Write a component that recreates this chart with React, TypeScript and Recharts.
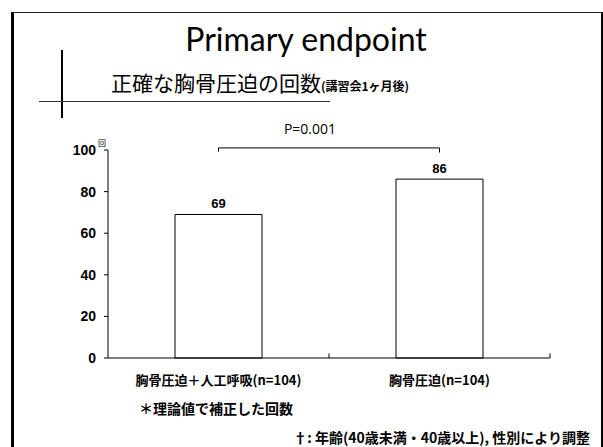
import * as React from 'react';
import {
  BarChart,
  Bar,
  XAxis,
  YAxis,
  LabelList,
  ReferenceLine,
} from 'recharts';

const groups = ['胸骨圧迫＋人工呼吸(n=104)', '胸骨圧迫(n=104)'];
const counts = [69, 86];
const yTicks = [0, 20, 40, 60, 80, 100];
const pValue = 'P=0.001';

const data = groups.map((g, i) => ({ group: g, count: counts[i] }));

const JP = '"Noto Sans CJK JP", "Liberation Sans", sans-serif';
const NUM = '"Liberation Sans", Arial, sans-serif';

const YTick = (props: any) => {
  const { x, y, payload } = props;
  return (
    <g>
      <text x={x} y={y} dy={5} textAnchor="end" fontFamily={NUM} fontWeight="bold" fontSize={14} fill="#000">
        {payload.value}
      </text>
      {payload.value === 100 && (
        <text x={x + 2} y={y - 4} fontFamily={JP} fontSize={8} fill="#000">回</text>
      )}
    </g>
  );
};

export default class App extends React.Component<any, any> {
  public render() {
    return (
      <div style={{ position: 'absolute', left: 0, top: 0, width: 603, height: 447, background: '#fff', overflow: 'hidden' }}>
        <div style={{ position: 'absolute', left: 106, top: 20, width: 400, textAlign: 'center', fontFamily: 'Lato, "Open Sans", sans-serif', fontSize: 32, color: '#000', lineHeight: '38px' }}>
          Primary endpoint
        </div>
        <div style={{ position: 'absolute', left: 111, top: 69, fontFamily: JP, fontSize: 21, color: '#000', lineHeight: '26px', whiteSpace: 'nowrap' }}>
          正確な胸骨圧迫の回数<span style={{ fontSize: 12, fontWeight: 'bold' }}>(講習会1ヶ月後)</span>
        </div>
        <div style={{ position: 'absolute', left: 210, top: 119, width: 200, textAlign: 'center', fontFamily: '"Open Sans", sans-serif', fontSize: 14, color: '#000' }}>
          {pValue}
        </div>
        <div style={{ position: 'absolute', left: 0, top: 0 }}>
          <BarChart
            width={603}
            height={447}
            data={data}
            margin={{ top: 150, right: 53, bottom: 59, left: 48 }}
            barCategoryGap={67}
          >
            <XAxis
              dataKey="group"
              axisLine={{ stroke: '#000' }}
              tickLine={false}
              tick={{ fontFamily: JP, fontSize: 13, fontWeight: 'bold', fill: '#000' }}
              tickMargin={12}
              height={30}
            />
            <YAxis
              domain={[0, 100]}
              ticks={yTicks}
              width={60}
              axisLine={{ stroke: '#000' }}
              tickLine={{ stroke: '#000' }}
              tickSize={4}
              tick={<YTick />}
              tickMargin={8}
            />
            {/* significance bracket */}
            <ReferenceLine segment={[{ x: groups[0], y: 101 }, { x: groups[1], y: 101 }]} stroke="#000" ifOverflow="visible" />
            <ReferenceLine segment={[{ x: groups[0], y: 101 }, { x: groups[0], y: 99.2 }]} stroke="#000" ifOverflow="visible" />
            <ReferenceLine segment={[{ x: groups[1], y: 101 }, { x: groups[1], y: 98.8 }]} stroke="#000" ifOverflow="visible" />
            {/* category boundary ticks */}
            <ReferenceLine position="end" segment={[{ x: groups[0], y: 0 }, { x: groups[0], y: 2.2 }]} stroke="#000" />
            <ReferenceLine position="end" segment={[{ x: groups[1], y: 0 }, { x: groups[1], y: 2.2 }]} stroke="#000" />
            <Bar dataKey="count" fill="#fff" stroke="#000" strokeWidth={1} isAnimationActive={false}>
              <LabelList dataKey="count" position="top" offset={6} fill="#000" fontFamily={NUM} fontWeight="bold" fontSize={13} />
            </Bar>
          </BarChart>
        </div>
        <div style={{ position: 'absolute', left: 139, top: 398, fontFamily: JP, fontSize: 14, fontWeight: 'bold', color: '#000', whiteSpace: 'nowrap' }}>
          ＊理論値で補正した回数
        </div>
        <div style={{ position: 'absolute', right: 13, top: 427, fontFamily: JP, fontSize: 14, fontWeight: 'bold', color: '#000', whiteSpace: 'nowrap' }}>
          †: 年齢(40歳未満・40歳以上), 性別により調整
        </div>
        {/* slide frame */}
        <div style={{ position: 'absolute', left: 11, top: 12, width: 587, height: 450, borderLeft: '3px solid #000', borderTop: '1px solid #222', borderRight: '3px solid #000', zIndex: 20 }} />
        {/* logo cross */}
        <svg width={603} height={447} style={{ position: 'absolute', left: 0, top: 0, zIndex: 10, pointerEvents: 'none' }}>
          <line x1={62} y1={50} x2={62} y2={118} stroke="#000" strokeWidth={2} />
          <line x1={39} y1={101.5} x2={330} y2={101.5} stroke="#333" strokeWidth={1} />
        </svg>
      </div>
    );
  }
}
